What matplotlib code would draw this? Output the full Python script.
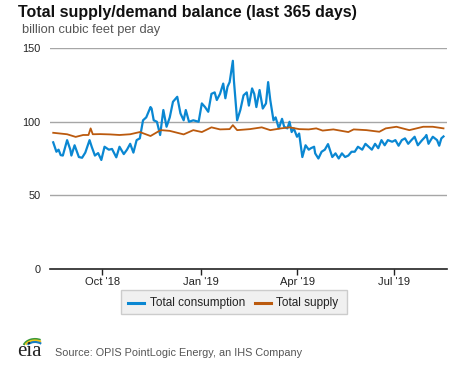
import matplotlib
matplotlib.use("Agg")
import matplotlib.pyplot as plt
from matplotlib.patches import Arc, Rectangle
from matplotlib.lines import Line2D
import pandas as pd

# ---------------- data ----------------
cons_dates = [
    "2018-08-16", "2018-08-19", "2018-08-21", "2018-08-23", "2018-08-25", "2018-08-29",
    "2018-09-01", "2018-09-02", "2018-09-05", "2018-09-09", "2018-09-12", "2018-09-15",
    "2018-09-19", "2018-09-21", "2018-09-24", "2018-09-27", "2018-09-30", "2018-10-03",
    "2018-10-07", "2018-10-10", "2018-10-14", "2018-10-17", "2018-10-21", "2018-10-24",
    "2018-10-27", "2018-10-30", "2018-11-02", "2018-11-05", "2018-11-08", "2018-11-11",
    "2018-11-15", "2018-11-16", "2018-11-18", "2018-11-21", "2018-11-24", "2018-11-27",
    "2018-11-30", "2018-12-03", "2018-12-06", "2018-12-10", "2018-12-13", "2018-12-16",
    "2018-12-18", "2018-12-21", "2018-12-25", "2018-12-30", "2019-01-02", "2019-01-05",
    "2019-01-08", "2019-01-11", "2019-01-14", "2019-01-16", "2019-01-19", "2019-01-22",
    "2019-01-24", "2019-01-26", "2019-01-28", "2019-01-31", "2019-02-01", "2019-02-04",
    "2019-02-07", "2019-02-10", "2019-02-13", "2019-02-15", "2019-02-18", "2019-02-20",
    "2019-02-22", "2019-02-25", "2019-02-28", "2019-03-03", "2019-03-05", "2019-03-07",
    "2019-03-10", "2019-03-12", "2019-03-15", "2019-03-18", "2019-03-20", "2019-03-23",
    "2019-03-25", "2019-03-27", "2019-03-29", "2019-04-01", "2019-04-03", "2019-04-06",
    "2019-04-09", "2019-04-12", "2019-04-14", "2019-04-17", "2019-04-18", "2019-04-21",
    "2019-04-24", "2019-04-27", "2019-04-30", "2019-05-04", "2019-05-07", "2019-05-10",
    "2019-05-13", "2019-05-16", "2019-05-19", "2019-05-22", "2019-05-25", "2019-05-28",
    "2019-06-01", "2019-06-04", "2019-06-07", "2019-06-10", "2019-06-13", "2019-06-16",
    "2019-06-19", "2019-06-22", "2019-06-25", "2019-06-29", "2019-07-02", "2019-07-05",
    "2019-07-08", "2019-07-11", "2019-07-14", "2019-07-17", "2019-07-20", "2019-07-23",
    "2019-07-27", "2019-07-30", "2019-07-31", "2019-08-02", "2019-08-04", "2019-08-06",
    "2019-08-10", "2019-08-12", "2019-08-14", "2019-08-16",
]
consumption = [
    86, 79.6, 81, 77.3, 77, 87.5,
    81, 77, 84, 76, 75.5, 79,
    87.5, 83, 77, 78.7, 74, 83,
    81, 81.5, 75.8, 83, 78, 81,
    85, 79, 87.5, 88.7, 101, 103,
    110, 109, 101, 100, 91, 108,
    96.6, 103, 113.6, 117, 105.7, 101,
    108, 100, 101, 100, 112.5, 110,
    106.8, 119, 120, 114.8, 119, 126,
    116, 123.8, 127, 141.5, 128, 101,
    108, 118, 120, 111, 122.7, 119,
    110, 121.6, 109, 112.5, 127, 114.8,
    101, 103, 95.5, 102, 96.6, 95.5,
    100, 93, 95.5, 89.8, 92, 76,
    84, 81, 82, 83, 78.5, 75,
    79.6, 81, 84.8, 76, 78.5, 75,
    78.5, 76, 77, 79.6, 79.6, 83,
    81, 85, 83, 81, 85, 82,
    87.5, 84, 87.5, 86.4, 87.5, 83.7,
    87.5, 88.7, 85, 87.5, 89.8, 84,
    87.5, 89.8, 91, 85, 87.5, 89.8,
    87.5, 83.7, 88.7, 90,
]

supply_dates = [
    "2018-08-16", "2018-08-29", "2018-09-06", "2018-09-13", "2018-09-18", "2018-09-20",
    "2018-09-22", "2018-09-29", "2018-10-08", "2018-10-17", "2018-10-27", "2018-11-05",
    "2018-11-15", "2018-11-23", "2018-11-25", "2018-12-03", "2018-12-16", "2018-12-25",
    "2019-01-02", "2019-01-11", "2019-01-19", "2019-01-28", "2019-01-31", "2019-02-04",
    "2019-02-16", "2019-02-27", "2019-03-07", "2019-03-17", "2019-03-25", "2019-04-03",
    "2019-04-12", "2019-04-19", "2019-04-25", "2019-05-05", "2019-05-19", "2019-05-24",
    "2019-06-05", "2019-06-17", "2019-06-23", "2019-07-03", "2019-07-15", "2019-07-28",
    "2019-08-06", "2019-08-16",
]
supply = [
    92.5, 91.5, 89.7, 91, 91, 95.5,
    91.5, 91.6, 91.4, 91, 91.5, 93,
    90.3, 93.7, 94.3, 93.8, 91.4, 94.3,
    93, 96.2, 94.8, 95, 97.7, 94.3,
    95, 96.2, 94.3, 95.5, 96.2, 95,
    94.8, 95.5, 94, 94.8, 93, 94.8,
    94.3, 93.2, 95.5, 96.6, 94.3, 96.6,
    96.6, 95.5,
]

y_ticks = [0, 50, 100, 150]
x_tick_dates = ["2018-10-01", "2019-01-01", "2019-04-01", "2019-07-01"]
x_tick_labels = ["Oct '18", "Jan '19", "Apr '19", "Jul '19"]

title = "Total supply/demand balance (last 365 days)"
subtitle = "billion cubic feet per day"
source = "Source: OPIS PointLogic Energy, an IHS Company"
series_names = ["Total consumption", "Total supply"]
colors = ["#0a87d2", "#bb5a0e"]

# ---------------- figure ----------------
W, H = 477, 367
plt.rcParams["font.family"] = ["Liberation Sans", "DejaVu Sans"]
fig = plt.figure(figsize=(W / 100, H / 100), dpi=100)
fig.patch.set_facecolor("white")

ax = fig.add_axes([50 / W, 1 - 268.7 / H, (446.7 - 50) / W, (268.7 - 48.3) / H])
ax.set_facecolor("white")

cd = pd.to_datetime(cons_dates)
sd = pd.to_datetime(supply_dates)

ax.plot(cd, consumption, color=colors[0], lw=1.6, solid_joinstyle="round", zorder=3)
ax.plot(sd, supply, color=colors[1], lw=1.3, solid_joinstyle="round", zorder=4)

ax.set_ylim(0, 150)
ax.set_xlim(pd.Timestamp("2018-08-13"), pd.Timestamp("2019-08-19"))

ax.set_yticks(y_ticks)
ax.set_yticklabels([str(v) for v in y_ticks], fontsize=7.8, color="#222222")
ax.tick_params(axis="y", length=0, pad=7)
for v in y_ticks[1:]:
    ax.axhline(v, color="#a6a6a6", lw=1.0, zorder=1)

ax.set_xticks(pd.to_datetime(x_tick_dates))
ax.set_xticklabels(x_tick_labels, fontsize=8, color="#222222")
ax.tick_params(axis="x", length=4, width=1, color="#222222", pad=2)

for s in ["top", "right", "left"]:
    ax.spines[s].set_visible(False)
ax.spines["bottom"].set_color("#222222")
ax.spines["bottom"].set_linewidth(1.2)
ax.spines["bottom"].set_zorder(5)

# titles
fig.text(18 / W, 1 - 12 / H, title, fontsize=11.5, fontweight="bold",
         color="#111111", va="center", ha="left")
fig.text(22 / W, 1 - 30 / H, subtitle, fontsize=9.3, color="#555555",
         va="center", ha="left")

# legend box
lx0, lx1, ly0, ly1 = 121, 346.7, 290, 314.3
fig.patches.append(Rectangle((lx0 / W, 1 - ly1 / H), (lx1 - lx0) / W, (ly1 - ly0) / H,
                             transform=fig.transFigure, facecolor="#f0f0f0",
                             edgecolor="#cccccc", lw=1.0))
ly = 1 - 303.3 / H
fig.lines.append(Line2D([128 / W, 144 / W], [ly, ly], transform=fig.transFigure,
                        color=colors[0], lw=2.2))
fig.text(150 / W, ly, series_names[0], fontsize=8.5, color="#222222",
         va="center", ha="left")
fig.lines.append(Line2D([255 / W, 271 / W], [ly, ly], transform=fig.transFigure,
                        color=colors[1], lw=2.2))
fig.text(276 / W, ly, series_names[1], fontsize=8.5, color="#222222",
         va="center", ha="left")

# footer: eia logo + source
fig.text(29.5 / W, 1 - 352 / H, "eia", fontsize=15, family="Liberation Serif",
         color="#222222", ha="center", va="center")
arc_ax = fig.add_axes([16 / W, 1 - 349 / H, 28 / W, 12 / H])
arc_ax.set_xlim(0, 28)
arc_ax.set_ylim(0, 12)
arc_ax.axis("off")
arc_ax.add_patch(Arc((19, 1), 24, 18, theta1=55, theta2=165, color="#3b9a3b", lw=1.5))
arc_ax.add_patch(Arc((19, 0), 22, 17, theta1=50, theta2=155, color="#f0c419", lw=1.5))
arc_ax.add_patch(Arc((19, -1), 20, 16, theta1=45, theta2=145, color="#1a7dc1", lw=1.5))
fig.text(55 / W, 1 - 352.5 / H, source, fontsize=7.8, color="#555555",
         va="center", ha="left")

fig.savefig("out.png", dpi=100, facecolor="white")
